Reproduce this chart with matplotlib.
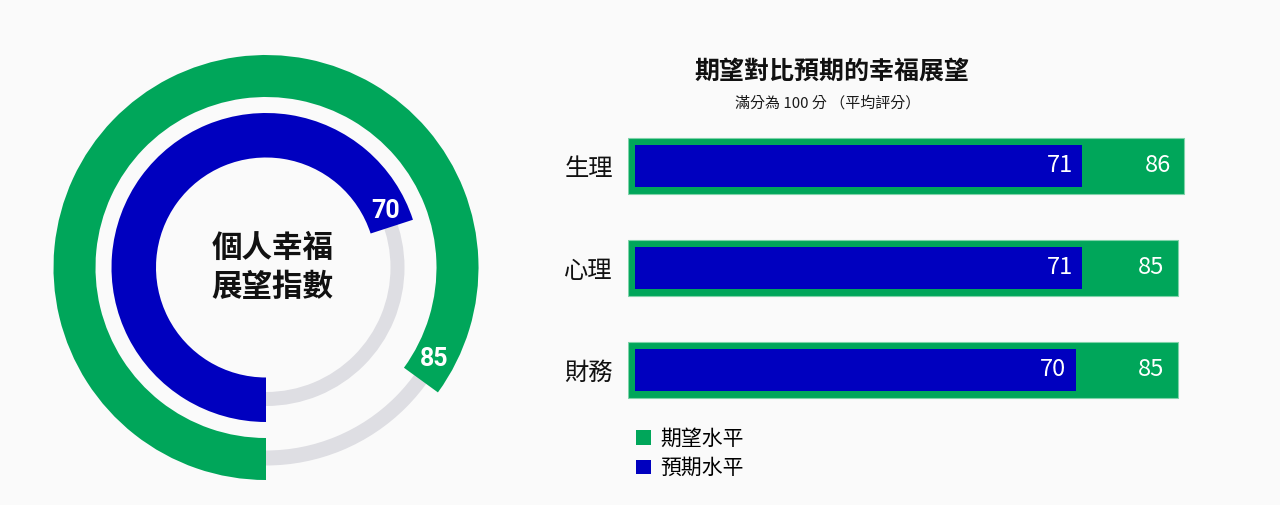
import numpy as np
import matplotlib
matplotlib.use("Agg")
import matplotlib.pyplot as plt
from matplotlib.patches import Patch

plt.rcParams['font.family'] = ['Noto Sans CJK TC', 'DejaVu Sans']

# datos
ring_names = ['期望水平', '預期水平']
ring_values = [85, 70]
categories = ['生理', '心理', '財務']
expected = [86, 85, 85]      # 期望水平
anticipated = [71, 71, 70]   # 預期水平

green = '#00A65A'
blue = '#0000BF'
track = '#DEDEE3'
bg = '#FAFAFA'

W, H = 1280, 505
fig = plt.figure(figsize=(W / 100, H / 100), dpi=100, facecolor=bg)

# ---- dona a la izquierda
cx, cy, R = 266, 505 - 267.5, 212.5
axd = fig.add_axes([(cx - R) / W, (cy - R) / H, 2 * R / W, 2 * R / H])
axd.set_facecolor(bg)

rings = [
    # (valor, color, radio ext, ancho, radio pista, ancho pista)
    (ring_values[0], green, 1.0, 42 / R, 198 / R, 15 / R),
    (ring_values[1], blue, 154.5 / R, 44.5 / R, 138.5 / R, 14 / R),
]
for val, col, r, w, rt, wt in rings:
    axd.pie([1], radius=rt, colors=[track], startangle=-90,
            wedgeprops=dict(width=wt, edgecolor='none'))
    axd.pie([val, 100 - val], radius=r, colors=[col, 'none'], startangle=-90,
            counterclock=False, wedgeprops=dict(width=w, edgecolor='none'))
    end = np.deg2rad(-90 - 360 * val / 100 + 7.5)
    rm = r - w / 2
    axd.text(rm * np.cos(end), rm * np.sin(end), str(val), color='white',
             fontsize=18, fontweight='bold', ha='center', va='center',
             family=['Roboto', 'DejaVu Sans'])

axd.text(0.03, 0, '個人幸福\n展望指數', ha='center', va='center', fontsize=22,
         fontweight='bold', color='#111111', linespacing=1.3)
axd.set_xlim(-1, 1)
axd.set_ylim(-1, 1)
axd.set_aspect('equal')
axd.axis('off')

# ---- barras a la derecha
x0 = 628
scale = 6.465  # px por unidad
y_top, y_bot = 115, 421
axb = fig.add_axes([x0 / W, (H - y_bot) / H, 100 * scale / W, (y_bot - y_top) / H])
axb.set_facecolor('none')
pos = np.arange(len(categories))
inset = 7 / scale
axb.barh(pos, expected, height=56 / 102, color=green, edgecolor='#7fd3a9', linewidth=0.8)
axb.barh(pos, np.array(anticipated) - 0.7 - inset, left=inset, height=42 / 102,
         color=blue, edgecolor='none')
for p, e, a in zip(pos, expected, anticipated):
    axb.text(e - 2.0, p, str(e), color='white', ha='right', va='center', fontsize=17)
    axb.text(a - 2.2, p, str(a), color='white', ha='right', va='center', fontsize=17)
axb.set_xlim(0, 100)
axb.set_ylim(len(categories) - 0.5, -0.5)
axb.set_yticks(pos, categories, fontsize=17.5, color='#111111')
axb.tick_params(axis='y', length=0, pad=11)
axb.set_xticks([])
for s in axb.spines.values():
    s.set_visible(False)

fig.text(832 / W, 1 - 72 / H, '期望對比預期的幸福展望', ha='center', va='center',
         fontsize=18, fontweight='bold', color='#111111')
fig.text(828 / W, 1 - 103 / H, '滿分為 100 分 （平均評分）', ha='center', va='center',
         fontsize=10.8, color='#1a1a1a')

handles = [Patch(facecolor=green, edgecolor='none'), Patch(facecolor=blue, edgecolor='none')]
fig.legend(handles, ring_names, loc='upper left', bbox_to_anchor=(636 / W, 1 - 428 / H),
           frameon=False, fontsize=15, handlelength=0.7, handleheight=0.7,
           handletextpad=0.45, labelspacing=0.35, borderpad=0, borderaxespad=0)

fig.savefig('out.png', dpi=100, facecolor=bg)
